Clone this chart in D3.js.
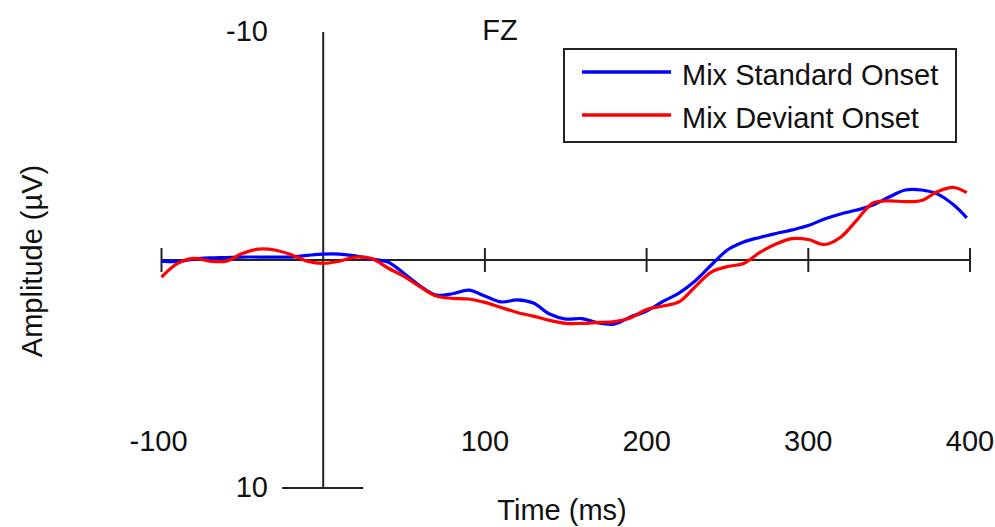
<!DOCTYPE html>
<html>
<head>
<meta charset="utf-8">
<script src="https://cdn.jsdelivr.net/npm/d3@7/dist/d3.min.js"></script>
<style>
  html, body { margin: 0; padding: 0; background: #fff; }
  svg { display: block; }
  text { font-family: "Liberation Sans", Arial, sans-serif; fill: #111; }
</style>
</head>
<body>
<svg id="chart" width="995" height="527"></svg>
<script>
// ---- data ----
const channel = "FZ";
const timesMs = [-100,-90,-80,-70,-60,-50,-40,-30,-20,-10,0,10,20,30,40,50,60,70,80,90,100,110,120,130,140,150,160,170,180,190,200,210,220,230,240,250,260,270,280,290,300,310,320,330,340,350,360,370,380,390,398];
const standardOnset = [0.05,0.07,-0.04,-0.09,-0.11,-0.13,-0.13,-0.13,-0.13,-0.2,-0.26,-0.26,-0.18,-0.04,0.09,0.59,1.14,1.54,1.48,1.32,1.58,1.84,1.75,1.89,2.37,2.59,2.57,2.76,2.81,2.5,2.24,1.82,1.45,0.92,0.22,-0.44,-0.79,-0.99,-1.16,-1.32,-1.51,-1.8,-2.02,-2.19,-2.41,-2.76,-3.07,-3.07,-2.89,-2.41,-1.85];
const deviantOnset = [0.75,0.15,-0.07,0.05,0.05,-0.28,-0.48,-0.44,-0.24,0.05,0.15,0.05,-0.13,-0.07,0.35,0.72,1.18,1.58,1.68,1.71,1.86,2.08,2.3,2.46,2.65,2.78,2.78,2.74,2.7,2.54,2.17,2.02,1.84,1.18,0.53,0.29,0.15,-0.33,-0.7,-0.94,-0.9,-0.68,-1.0,-1.75,-2.5,-2.59,-2.56,-2.61,-3.0,-3.18,-2.95];
const seriesNames = ["Mix Standard Onset", "Mix Deviant Onset"];
const seriesColors = ["#0000ff", "#ff0000"];
const xTicks = [-100, 100, 200, 300, 400];
const xTickMarks = [-100, 0, 100, 200, 300, 400];
const yTickLabels = [-10, 10];
const xTitle = "Time (ms)";
const yTitle = "Amplitude (\u00b5V)";

// ---- drawing ----
const svg = d3.select("#chart");
const x = d3.scaleLinear().domain([-100, 400]).range([161.5, 970]);
const y = d3.scaleLinear().domain([-10, 10]).range([32, 488]);
const axisColor = "#222";
const FS = 29;

// horizontal axis (at 0 µV)
svg.append("line")
  .attr("x1", x(-100)).attr("x2", x(400))
  .attr("y1", y(0)).attr("y2", y(0))
  .attr("stroke", axisColor).attr("stroke-width", 2);
svg.selectAll(".xtick").data(xTickMarks.filter(d => d !== 0)).enter().append("line")
  .attr("x1", d => x(d)).attr("x2", d => x(d))
  .attr("y1", y(0) - 12).attr("y2", y(0) + 12)
  .attr("stroke", axisColor).attr("stroke-width", 2);
svg.selectAll(".xlab").data(xTicks).enter().append("text")
  .attr("x", d => x(d) - (d < 0 ? 3 : 0))
  .attr("y", 451)
  .attr("text-anchor", "middle")
  .attr("font-size", FS)
  .text(d => d);

// vertical axis (at 0 ms)
svg.append("line")
  .attr("x1", x(0)).attr("x2", x(0))
  .attr("y1", y(-10)).attr("y2", y(10))
  .attr("stroke", axisColor).attr("stroke-width", 2);
svg.append("line")
  .attr("x1", x(0) - 41).attr("x2", x(0) + 40)
  .attr("y1", y(10)).attr("y2", y(10))
  .attr("stroke", axisColor).attr("stroke-width", 2);
svg.selectAll(".ylab").data(yTickLabels).enter().append("text")
  .attr("x", 268)
  .attr("y", d => y(d) + 9)
  .attr("text-anchor", "end")
  .attr("font-size", FS)
  .text(d => d);

// titles
svg.append("text").attr("x", 500).attr("y", 40)
  .attr("text-anchor", "middle").attr("font-size", FS).text(channel);
svg.append("text").attr("x", 562).attr("y", 520)
  .attr("text-anchor", "middle").attr("font-size", FS).text(xTitle);
svg.append("text")
  .attr("transform", "translate(42,261) rotate(-90)")
  .attr("text-anchor", "middle").attr("font-size", FS).text(yTitle);

// curves
const line = d3.line()
  .x((d, i) => x(timesMs[i]))
  .y(d => y(d))
  .curve(d3.curveCatmullRom.alpha(0.5));
[standardOnset, deviantOnset].forEach((vals, k) => {
  svg.append("path")
    .attr("d", line(vals))
    .attr("fill", "none")
    .attr("stroke", seriesColors[k])
    .attr("stroke-width", 3.2)
    .attr("stroke-linejoin", "round");
});

// legend
const lg = svg.append("g");
lg.append("rect")
  .attr("x", 564).attr("y", 49).attr("width", 392).attr("height", 93)
  .attr("fill", "#fff").attr("stroke", axisColor).attr("stroke-width", 2);
seriesNames.forEach((name, k) => {
  const cy = 72 + k * 43;
  lg.append("line")
    .attr("x1", 582).attr("x2", 671).attr("y1", cy).attr("y2", cy)
    .attr("stroke", seriesColors[k]).attr("stroke-width", 3.5);
  lg.append("text")
    .attr("x", 682).attr("y", cy + 13)
    .attr("font-size", FS).text(name);
});
</script>
</body>
</html>
